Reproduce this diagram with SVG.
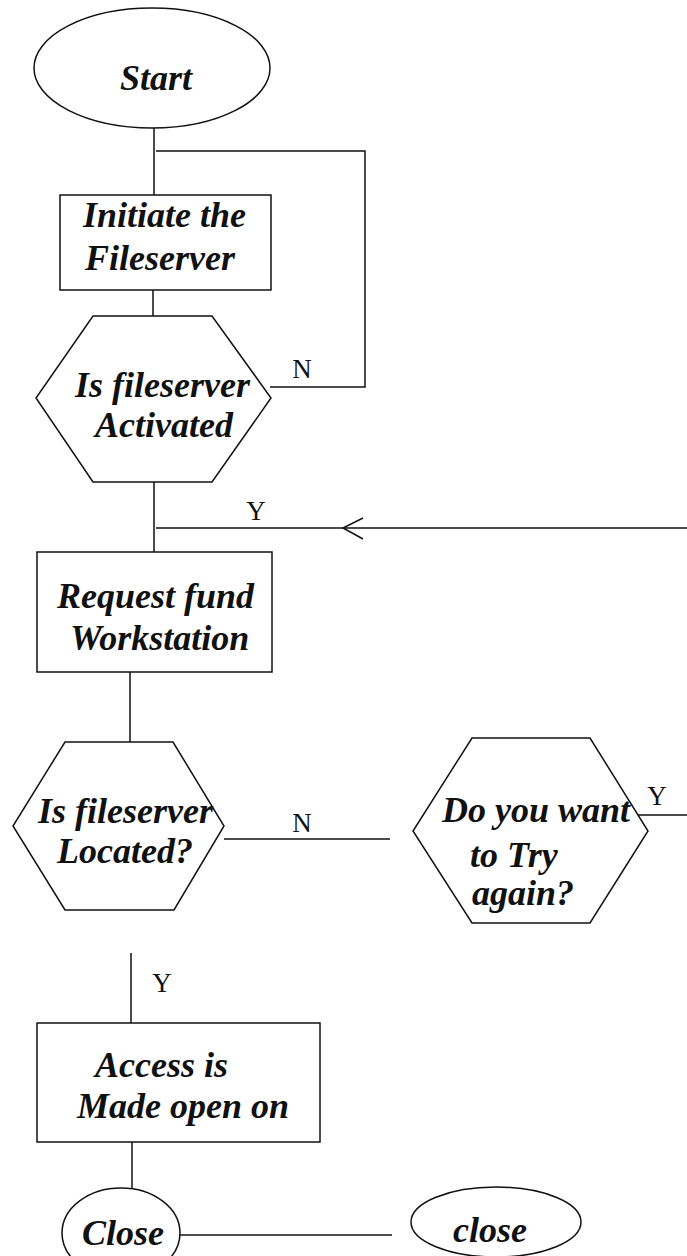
<svg xmlns="http://www.w3.org/2000/svg" width="687" height="1256" viewBox="0 0 687 1256">
<style>
.s{fill:#fff;stroke:#111;stroke-width:1.5}
.c{fill:none;stroke:#111;stroke-width:1.5}
.t{font-family:"Liberation Serif","Times New Roman",serif;font-size:36px;font-weight:bold;font-style:italic;fill:#111}
.l{font-family:"Liberation Serif","Times New Roman",serif;font-size:27px;fill:#111}
</style>
<rect width="687" height="1256" fill="#fff"/>
<g id="connectors">
<path class="c" d="M154,128 V195"/>
<path class="c" d="M156,151 H365 V387 H270"/>
<path class="c" d="M153,290 V316"/>
<path class="c" d="M154,482 V552"/>
<path class="c" d="M156,528 H687"/>
<path class="c" d="M363,518 L343,528 L363,539"/>
<path class="c" d="M130,672 V742"/>
<path class="c" d="M224,839 H390"/>
<path class="c" d="M637,815 H687"/>
<path class="c" d="M131,953 V1023"/>
<path class="c" d="M132,1142 V1188"/>
<path class="c" d="M180,1235 H392"/>
<text class="l" x="302" y="378" text-anchor="middle">N</text>
<text class="l" x="256" y="520" text-anchor="middle">Y</text>
<text class="l" x="302" y="832" text-anchor="middle">N</text>
<text class="l" x="657" y="805" text-anchor="middle">Y</text>
<text class="l" x="162" y="992" text-anchor="middle">Y</text>
</g>
<g id="start">
<ellipse class="s" cx="152" cy="68" rx="118" ry="60"/>
<text class="t" x="120" y="90">Start</text>
</g>
<g id="initiate">
<rect class="s" x="60" y="195" width="211" height="95"/>
<text class="t" x="83" y="227">Initiate the</text>
<text class="t" x="85" y="270">Fileserver</text>
</g>
<g id="activated">
<polygon class="s" points="93,316 212,316 271,398 212,482 93,482 36,398"/>
<text class="t" x="75" y="397">Is fileserver</text>
<text class="t" x="95" y="437">Activated</text>
</g>
<g id="request">
<rect class="s" x="37" y="552" width="235" height="120"/>
<text class="t" x="57" y="608">Request fund</text>
<text class="t" x="70" y="650">Workstation</text>
</g>
<g id="located">
<polygon class="s" points="65,742 173,742 224,826 174,910 65,910 13,826"/>
<text class="t" x="38" y="823">Is fileserver</text>
<text class="t" x="57" y="863">Located?</text>
</g>
<g id="tryagain">
<polygon class="s" points="472,738 590,738 648,831 590,923 472,923 413,831"/>
<text class="t" x="442" y="822">Do you want</text>
<text class="t" x="470" y="867">to Try</text>
<text class="t" x="472" y="905">again?</text>
</g>
<g id="access">
<rect class="s" x="37" y="1023" width="283" height="119"/>
<text class="t" x="95" y="1077">Access is</text>
<text class="t" x="77" y="1118">Made open on</text>
</g>
<g id="close1">
<ellipse class="s" cx="121" cy="1233" rx="59" ry="45"/>
<text class="t" x="82" y="1245">Close</text>
</g>
<g id="close2">
<ellipse class="s" cx="496" cy="1222" rx="85" ry="35"/>
<text class="t" x="453" y="1242">close</text>
</g>
</svg>
